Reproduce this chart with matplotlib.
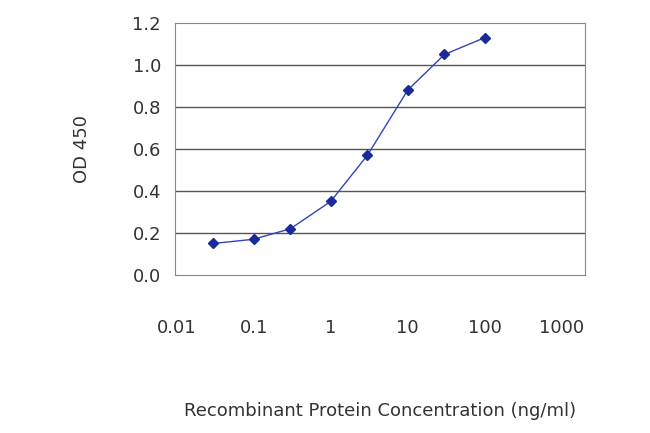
import matplotlib
matplotlib.use("Agg")
import matplotlib.pyplot as plt

conc = [0.03, 0.1, 0.3, 1, 3, 10, 30, 100]
od = [0.15, 0.17, 0.22, 0.35, 0.57, 0.88, 1.05, 1.13]
xticks = [0.01, 0.1, 1, 10, 100, 1000]
xlabels = ["0.01", "0.1", "1", "10", "100", "1000"]
yticks = [0.0, 0.2, 0.4, 0.6, 0.8, 1.0, 1.2]

fig = plt.figure(figsize=(6.5, 4.33), dpi=100)
ax = fig.add_axes([0.269, 0.365, 0.631, 0.582])
ax.set_xscale("log")
ax.set_xlim(0.0095, 2000)
ax.set_ylim(0, 1.2)
for y in yticks[1:-1]:
    ax.axhline(y, color="#555555", lw=1)
ax.plot(conc, od, color="#3344bb", lw=1, marker="D", ms=5,
        mfc="#1a2a99", mec="#1a2a99")
ax.set_xticks(xticks)
ax.set_xticklabels(xlabels)
ax.minorticks_off()
ax.set_yticks(yticks)
ax.set_yticklabels(["%.1f" % v for v in yticks])
ax.tick_params(axis="y", length=0, labelsize=13, colors="#333333", pad=10)
ax.tick_params(axis="x", length=0, labelsize=13, colors="#333333", pad=32)
for s in ax.spines.values():
    s.set_color("#888888")
ax.set_ylabel("OD 450", fontsize=13, color="#333333", labelpad=30)
fig.text(0.585, 0.04, "Recombinant Protein Concentration (ng/ml)",
         ha="center", fontsize=13, color="#333333")
fig.savefig("out.png", dpi=100)
